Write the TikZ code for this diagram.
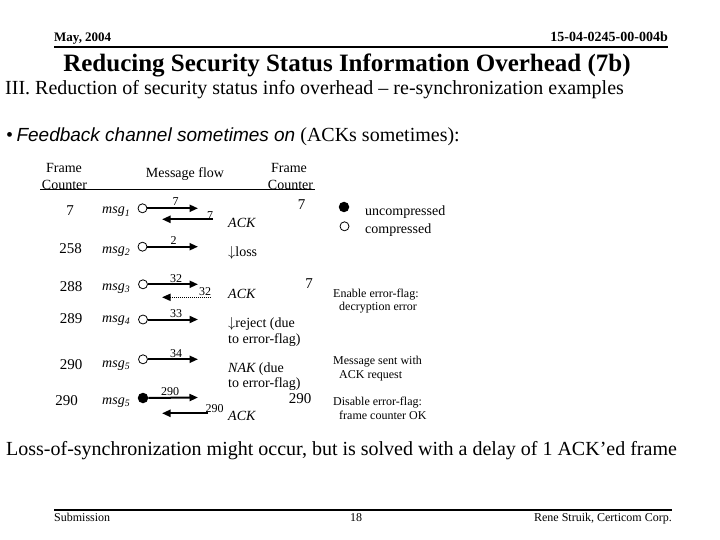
\documentclass[tikz,border=0pt]{standalone}
\usepackage{fontspec}
\setmainfont{Liberation Serif}
\newfontfamily\sansit{Liberation Sans}
\usetikzlibrary{arrows.meta}
\begin{document}
\begin{tikzpicture}[x=1pt,y=-1pt,
  txt/.style={inner sep=0pt, anchor=base},
  row/.style={txt, font=\fontsize{14}{16}\selectfont},
  num/.style={txt, font=\fontsize{15}{17}\selectfont},
  rowl/.style={row, anchor=base west},
  lbl/.style={txt, font=\fontsize{12}{14}\selectfont},
  note/.style={txt, anchor=base west, font=\fontsize{12}{14}\selectfont},
  big/.style={txt, anchor=base west, font=\fontsize{20}{22}\selectfont},
  msgarrow/.style={line width=2pt, -{Triangle[length=8.5pt,width=7pt]}},
  ackdotted/.style={line width=1.6pt, dash pattern=on 1pt off 1pt, -{Triangle[length=8.5pt,width=7pt]}},
  opendot/.style={circle, draw, line width=0.8pt, minimum size=9pt, inner sep=0pt, fill=white},
  filldot/.style={circle, fill=black, minimum size=10.5pt, inner sep=0pt},
]
\useasboundingbox[fill=white] (0,0) rectangle (720,540);

% header
\node[txt, anchor=base west, font=\bfseries\fontsize{13}{15}\selectfont] (date) at (54,42) {May, 2004};
\node[txt, anchor=base east, font=\bfseries\fontsize{14}{16}\selectfont] (doc) at (668,42) {15-04-0245-00-004b};
\draw[line width=2pt] (54,47.5) -- (668,47.5);
\node[txt, font=\bfseries\fontsize{25}{28}\selectfont] (title) at (347,72) {Reducing Security Status Information Overhead (7b)};
\node[big] (sub) at (5,95) {III. Reduction of security status info overhead – re-synchronization examples};
\node[big] (bul) at (6,142) {•\,{\sansit\itshape\fontsize{19}{21}\selectfont Feedback channel sometimes on} (ACKs sometimes):};

% table head
\node[row] (fcl1) at (64,173) {Frame};
\node[row] (fcl2) at (64.5,190) {Counter};
\node[row] (mf) at (185,178) {Message flow};
\node[row] (fcr1) at (289,173) {Frame};
\node[row] (fcr2) at (290.5,190) {Counter};
\draw[line width=0.8pt] (40,189.5) -- (315,189.5);

% row 1
\node[num] (n1) at (70,215) {7};
\node[rowl] (m1) at (102,214) {{\itshape msg}\textsubscript{\itshape 1}};
\node[opendot] (c1) at (142.5,208.3) {};
\coordinate (e1) at (198,208.3);
\draw[msgarrow] (c1) -- (e1);
\node[lbl] (l1) at (175.5,206) {7};
\coordinate (b1s) at (213,219.3);
\coordinate (b1e) at (162,219.3);
\draw[msgarrow] (b1s) -- (b1e);
\node[lbl] (bl1) at (210,219) {7};
\node[rowl] (a1) at (228,228) {\itshape ACK};
\node[num] (r1) at (301.5,210) {7};

% row 2
\node[num] (n2) at (70.5,254) {258};
\node[rowl] (m2) at (102,253) {{\itshape msg}\textsubscript{\itshape 2}};
\node[opendot] (c2) at (142.5,246.7) {};
\coordinate (e2) at (198,246.7);
\draw[msgarrow] (c2) -- (e2);
\node[lbl] (l2) at (173.5,244.5) {2};
\node[rowl] (a2) at (228,256) {$\downarrow$loss};

% row 3
\node[num] (n3) at (71,291) {288};
\node[rowl] (m3) at (102,290) {{\itshape msg}\textsubscript{\itshape 3}};
\node[opendot] (c3) at (143,284.3) {};
\coordinate (e3) at (198,284.3);
\draw[msgarrow] (c3) -- (e3);
\node[lbl] (l3) at (176,282.3) {32};
\coordinate (b3s) at (211,297.3);
\coordinate (b3e) at (162,297.3);
\draw[ackdotted] (b3s) -- (b3e);
\node[lbl] (bl3) at (205,295.5) {32};
\node[rowl] (a3) at (228,298) {\itshape ACK};
\node[num] (r3) at (309,288) {7};

% row 4
\node[num] (n4) at (71,323) {289};
\node[rowl] (m4) at (102,322) {{\itshape msg}\textsubscript{\itshape 4}};
\node[opendot] (c4) at (143,319.5) {};
\coordinate (e4) at (198,319.5);
\draw[msgarrow] (c4) -- (e4);
\node[lbl] (l4) at (176,317.5) {33};
\node[rowl] (a4) at (228,327) {$\downarrow$reject (due};
\node[rowl] (a4b) at (228,343) {to error-flag)};

% row 5
\node[num] (n5) at (71,369) {290};
\node[rowl] (m5) at (102,367) {{\itshape msg}\textsubscript{\itshape 5}};
\node[opendot] (c5) at (143,359.3) {};
\coordinate (e5) at (198,359.3);
\draw[msgarrow] (c5) -- (e5);
\node[lbl] (l5) at (176,357.3) {34};
\node[rowl] (a5) at (228,372) {{\itshape NAK} (due};
\node[rowl] (a5b) at (228,387) {to error-flag)};

% row 6
\node[num] (n6) at (66.5,405) {290};
\node[rowl] (m6) at (102,404) {{\itshape msg}\textsubscript{\itshape 5}};
\node[filldot] (c6) at (143,398) {};
\coordinate (e6) at (198,397.5);
\draw[msgarrow] (c6) -- (e6);
\node[lbl] (l6) at (170,395.5) {290};
\coordinate (b6s) at (208,413.3);
\coordinate (b6e) at (162,413.3);
\draw[msgarrow] (b6s) -- (b6e);
\node[lbl] (bl6) at (214.5,412) {290};
\node[rowl] (a6) at (228,420) {\itshape ACK};
\node[num] (r6) at (300,403) {290};

% legend
\node[filldot] (lf) at (344,207) {};
\node[opendot] (lo) at (344.5,226.3) {};
\node[rowl] (lft) at (365,215) {uncompressed};
\node[rowl] (lot) at (365,233.3) {compressed};

% notes
\node[note] (t1a) at (333,297) {Enable error-flag:};
\node[note] (t1b) at (339,310.5) {decryption error};
\node[note] (t2a) at (333,364) {Message sent with};
\node[note] (t2b) at (339,378) {ACK request};
\node[note] (t3a) at (333,405) {Disable error-flag:};
\node[note] (t3b) at (339,419) {frame counter OK};

% conclusion
\node[big] (concl) at (6,455) {Loss-of-synchronization might occur, but is solved with a delay of 1 ACK’ed frame};

% footer
\draw[line width=2pt] (54,510) -- (672,510);
\node[note] (sub1) at (54,521) {Submission};
\node[lbl] (pg) at (356,521) {18};
\node[txt, anchor=base east, font=\fontsize{12}{14}\selectfont] (auth) at (672,521) {Rene Struik, Certicom Corp.};
\end{tikzpicture}
\end{document}
